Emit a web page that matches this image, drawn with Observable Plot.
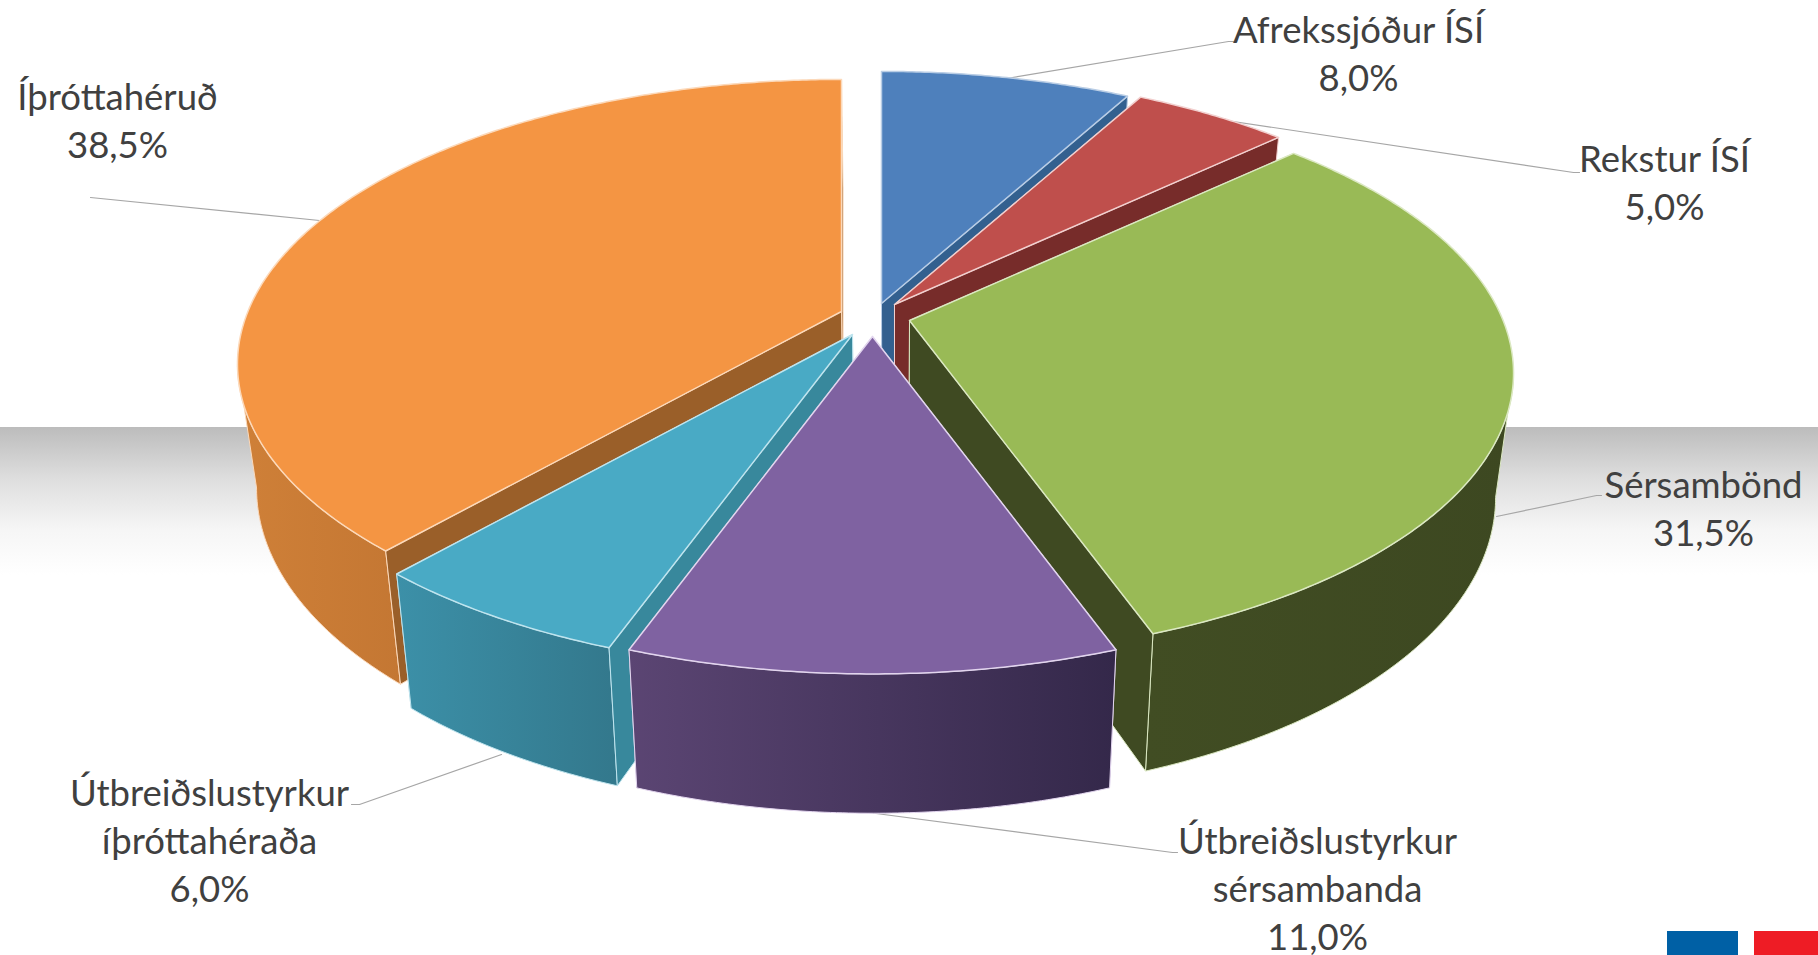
<!DOCTYPE html>
<html lang="is">
<head>
<meta charset="utf-8">
<script src="https://cdn.jsdelivr.net/npm/d3@7"></script>
<script src="https://cdn.jsdelivr.net/npm/@observablehq/plot@0.6"></script>
<style>
html,body{margin:0;padding:0;background:#fff;overflow:hidden}
svg{display:block}
</style>
</head>
<body>
<div id="chart"></div>
<script>
// ---- data ----
const categories = ["Afrekssjóður ÍSÍ","Rekstur ÍSÍ","Sérsambönd","Útbreiðslustyrkur\nsérsambanda","Útbreiðslustyrkur\níþróttahéraða","Íþróttahéruð"];
const shares = [8.0, 5.0, 31.5, 11.0, 6.0, 38.5];

// ---- styles ----
const topColors  = ["#4e80bc","#bf4f4c","#99ba56","#7f62a1","#49aac5","#f49543"];
const edgeColors = ["#b9cde5","#f2d0cf","#dbe8c2","#e2d5ee","#bfe4ee","#fcd9ba"];
const cutColors  = ["#33608f","#772c2a","#3f4a22","#4a3960","#38889c","#9a5f29"];
const wallFrom   = ["#3d6595","#8c3a38","#414d23","#5b4573","#3c90a8","#cf8038"];
const wallTo     = ["#2f5a8a","#772c2a","#3d4821","#34284a","#33788c","#c47733"];
const drawOrder  = [0, 1, 2, 5, 4, 3];

// ---- layout (3D view of the pie, in page pixels) ----
const W = 1818, H = 955;
const pullX = [881,894,909,872,852,841];
const pullY = [303,304,320,336,334,311];
const radX = 593.6, radY = 275, persp = 0.185;
const vanishX = 895, shrink = 0.971;
const labelX = [1358,1664,1703,1317,209,117];
const labelY = [51,180,506,886,838,118];
const leaders = [
  [[1006,78],[1228,41],[1233,41]],
  [[1206,117],[1573,172],[1579,172]],
  [[1496,516],[1596,495],[1601,495]],
  [[868,812],[1172,852],[1177,852]],
  [[501,754],[359,804],[351,804]],
  [[319,220],[90,197]]
];

const total = d3.sum(shares);
const ends = d3.cumsum(shares);
const pct = v => v.toFixed(1).replace(".", ",") + "%";
const frontFrom = Math.acos(-persp), frontTo = 2 * Math.PI - frontFrom;

function project(i, t, r, low) {
  const py = -Math.cos(t) * r, w = 1 / (1 - persp * py);
  let x = pullX[i] + radX * Math.sin(t) * r * w;
  let y = pullY[i] + radY * py * w;
  if (low) { x = vanishX + (x - vanishX) * shrink; y += 133 + (y - 547) * 0.05; }
  return {x, y};
}
function arc(i, a, b, low) {
  const n = Math.max(2, Math.ceil((b - a) / (Math.PI / 360)));
  return d3.range(n + 1).map(k => project(i, a + (b - a) * k / n, 1, low));
}
const closed = ps => [...ps, ps[0]];

const gradient = (id, a, b) => `<linearGradient id="${id}" x1="0" x2="1" y1="0" y2="0"><stop offset="0" stop-color="${a}"/><stop offset="1" stop-color="${b}"/></linearGradient>`;
const defs = () => d3.create("svg:defs").html(
  `<linearGradient id="band" x1="0" x2="0" y1="0" y2="1"><stop offset="0" stop-color="#bcbcbc"/><stop offset="0.35" stop-color="#dedede"/><stop offset="0.7" stop-color="#f6f6f6"/><stop offset="1" stop-color="#ffffff"/></linearGradient>` +
  shares.map((_, i) => gradient("wall" + i, wallFrom[i], wallTo[i])).join("")
).node();

const poly = (ps, fill, stroke, width = 1.3) => Plot.line(closed(ps), {x: "x", y: "y", fill, stroke, strokeWidth: width, strokeLinejoin: "round", curve: "linear"});

const sliceMarks = drawOrder.flatMap(i => {
  const a = (i ? ends[i - 1] : 0) / total * 2 * Math.PI;
  const b = ends[i] / total * 2 * Math.PI;
  const apex = project(i, 0, 0, false), apexLow = project(i, 0, 0, true);
  const cut = t => poly([apex, project(i, t, 1, false), project(i, t, 1, true), apexLow], cutColors[i], edgeColors[i], 1);
  const wa = Math.max(a, frontFrom), wb = Math.min(b, frontTo);
  const marks = [];
  // cut faces turned away from the viewer go behind the outer wall
  if (Math.sin(a) >= -1e-6) marks.push(cut(a));
  if (Math.sin(b) <= 1e-6) marks.push(cut(b));
  if (wb > wa) marks.push(poly([...arc(i, wa, wb, false), ...arc(i, wa, wb, true).reverse()], `url(#wall${i})`, edgeColors[i], 1));
  if (Math.sin(a) < -1e-6) marks.push(cut(a));
  if (Math.sin(b) > 1e-6) marks.push(cut(b));
  marks.push(poly([apex, ...arc(i, a, b, false)], topColors[i], edgeColors[i], 1.5));
  return marks;
});

const chart = Plot.plot({
  width: W, height: H, margin: 0,
  x: {domain: [0, W], range: [0, W], axis: null},
  y: {domain: [0, H], range: [0, H], axis: null},
  marks: [
    defs,
    Plot.rect([{x1: 0, x2: W, y1: 427, y2: 575}], {x1: "x1", x2: "x2", y1: "y1", y2: "y2", fill: "url(#band)"}),
    ...leaders.map(l => Plot.line(l, {x: d => d[0], y: d => d[1], stroke: "#a6a6a6", strokeWidth: 1.2})),
    ...sliceMarks,
    Plot.text(categories.map((c, i) => c + "\n" + pct(shares[i])), {
      x: (_, i) => labelX[i], y: (_, i) => labelY[i], text: d => d,
      fontSize: 36.5, lineHeight: 1.315, fill: "#404040", fontFamily: "Lato", textAnchor: "middle"
    }),
    Plot.rect([{x1: 1667, x2: 1738, y1: 931, y2: 955, c: "#0060a5"}, {x1: 1754, x2: 1818, y1: 931, y2: 955, c: "#ee1c25"}], {x1: "x1", x2: "x2", y1: "y1", y2: "y2", fill: "c"})
  ]
});
document.getElementById("chart").append(chart);
</script>
</body>
</html>
